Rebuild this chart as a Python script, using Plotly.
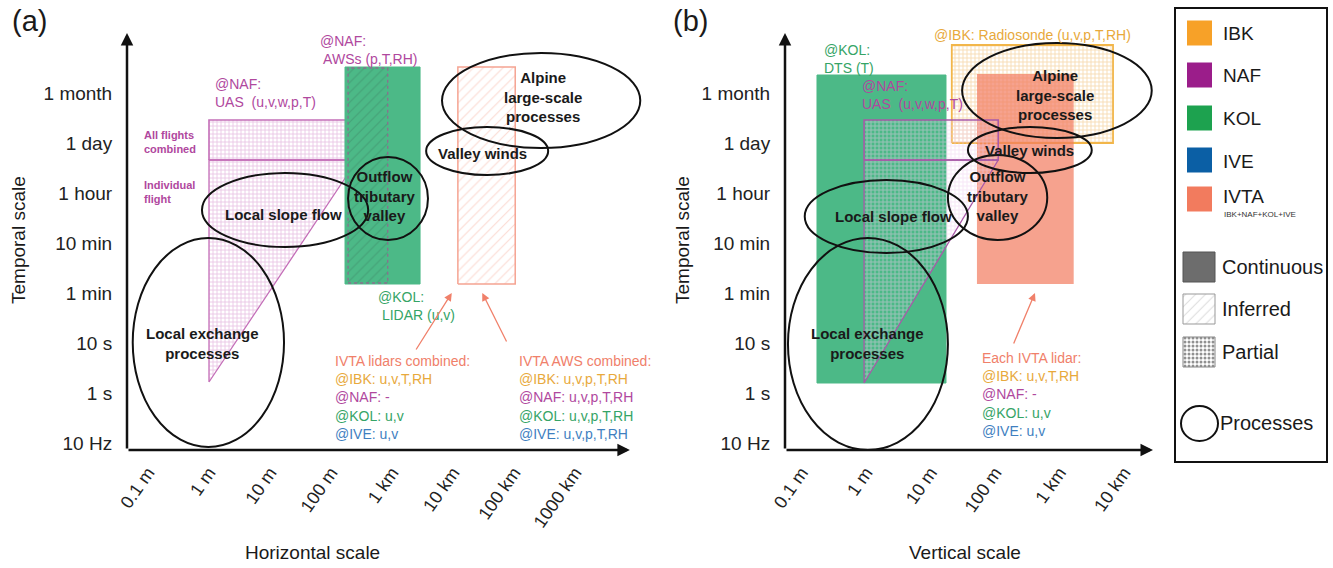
import plotly.graph_objects as go

# ---------------- data (log-decade index units) ----------------
YTICKS = ["10 Hz", "1 s", "10 s", "1 min", "10 min", "1 hour", "1 day", "1 month"]
XTICKS_H = ["0.1 m", "1 m", "10 m", "100 m", "1 km", "10 km", "100 km", "1000 km"]
XTICKS_V = ["0.1 m", "1 m", "10 m", "100 m", "1 km", "10 km"]

# boxes: [x0, x1, y0, y1]
H_KOL_LIDAR = [3.23, 4.46, 3.18, 7.52]
H_NAF_AWS = [3.28, 3.93, 3.20, 7.50]
H_IVTA_AWS = [5.08, 6.02, 3.18, 7.52]
H_NAF_UAS_ALL = [1.0, 3.43, 5.66, 6.46]
H_NAF_UAS_TRI_X = [1.0, 1.0, 3.43]
H_NAF_UAS_TRI_Y = [1.22, 5.66, 5.66]

V_KOL_DTS = [0.24, 2.24, 1.20, 7.36]
V_IBK_RS = [2.33, 4.83, 6.00, 7.96]
V_IVTA_LIDAR = [2.72, 4.22, 3.18, 7.38]
V_NAF_UAS_ALL = [0.97, 3.05, 5.66, 6.46]
V_NAF_UAS_TRI_X = [0.97, 0.97, 3.05]
V_NAF_UAS_TRI_Y = [1.20, 5.66, 5.66]

# processes (ellipses)
PROC_LABELS = ["Local exchange<br>processes", "Local slope flow",
               "Outflow<br>tributary<br>valley", "Valley winds",
               "Alpine<br>large-scale<br>processes"]
H_PROC_X = [[-0.25, 2.23], [0.885, 3.61], [3.28, 4.59], [4.56, 6.56], [4.82, 8.07]]
H_PROC_Y = [[-0.08, 4.10], [3.92, 5.40], [4.06, 5.72], [5.36, 6.32], [5.90, 7.80]]
H_PROC_LAB = [[0.90, 2.0], [2.22, 4.58], [3.89, 4.94], [5.49, 5.80], [6.48, 6.92]]
V_PROC_X = [[-0.21, 2.27], [0.05, 2.58], [2.27, 3.81], [2.58, 4.50], [2.49, 5.43]]
V_PROC_Y = [[-0.14, 4.10], [3.80, 5.26], [4.06, 5.76], [5.40, 6.32], [6.10, 8.00]]
V_PROC_LAB = [[1.03, 2.0], [1.42, 4.54], [3.05, 4.94], [3.54, 5.86], [3.93, 6.96]]

SITES = ["IBK", "NAF", "KOL", "IVE", "IVTA"]
SITE_COLORS = ["#f7a128", "#9b1d8a", "#1da24f", "#0b5fa5", "#f27b5e"]
STYLES = ["Continuous", "Inferred", "Partial"]

# text colours
C_NAF = "#b0489e"
C_KOL = "#35a466"
C_IBK = "#e8a93c"
C_IVE = "#3f7fbf"
C_IVTA = "#f0806a"

FONT = "Liberation Sans, Arial, sans-serif"
W, H = 1333, 568
OFF = 0  # body margin removed by post_script below


def fx(p):
    return (p - OFF) / W


def fy(p):
    return 1 - (p - OFF) / H


fig = go.Figure()


def rect_xy(b):
    x0, x1, y0, y1 = b
    return [x0, x1, x1, x0, x0], [y0, y0, y1, y1, y0]


def poly(xs, ys, xa, ya, fillcolor, line_color, line_width=1.5, dash="solid", pattern=None):
    fig.add_trace(go.Scatter(
        x=xs, y=ys, xaxis=xa, yaxis=ya, mode="lines", fill="toself",
        fillcolor=fillcolor, fillpattern=pattern,
        line=dict(color=line_color, width=line_width, dash=dash),
        hoverinfo="skip", showlegend=False))


def hatch(fg, size=7, sol=0.15, bg="rgba(0,0,0,0)"):
    return dict(shape="/", fgcolor=fg, bgcolor=bg, size=size, solidity=sol, fillmode="overlay")


def grid(fg, size=4, sol=0.4):
    return dict(shape="+", fgcolor=fg, bgcolor="rgba(0,0,0,0)", size=size, solidity=sol, fillmode="overlay")


# ---------------- panel (a) ----------------
tx, ty = H_NAF_UAS_TRI_X + [H_NAF_UAS_TRI_X[0]], H_NAF_UAS_TRI_Y + [H_NAF_UAS_TRI_Y[0]]
poly(tx, ty, "x", "y", "rgba(250,235,248,0.5)", "#c46fb8", 1.3, pattern=grid("#d48ccb"))
xs, ys = rect_xy(H_NAF_UAS_ALL)
poly(xs, ys, "x", "y", "rgba(250,235,248,0.5)", "#c46fb8", 1.6, pattern=grid("#d48ccb"))
xs, ys = rect_xy(H_KOL_LIDAR)
poly(xs, ys, "x", "y", "#4cb987", "#4cb987", 1)
xs, ys = rect_xy(H_NAF_AWS)
poly(xs, ys, "x", "y", "rgba(110,140,125,0.35)", "#8a6f8e", 1.3, "dot",
     pattern=hatch("rgba(50,90,75,0.55)", 7, 0.15))
xs, ys = rect_xy(H_IVTA_AWS)
poly(xs, ys, "x", "y", "rgba(255,255,255,0)", "#f5a492", 1.5,
     pattern=hatch("#f7b4a4", 7, 0.15))

# ---------------- panel (b) ----------------
xs, ys = rect_xy(V_KOL_DTS)
poly(xs, ys, "x2", "y2", "#4cb987", "#4cb987", 1)
xs, ys = rect_xy(V_IBK_RS)
poly(xs, ys, "x2", "y2", "rgba(253,240,222,0.7)", "#f2b64a", 1.8, pattern=grid("#f0bb6c", 4, 0.42))
xs, ys = rect_xy(V_IVTA_LIDAR)
poly(xs, ys, "x2", "y2", "rgba(242,123,94,0.7)", "rgba(242,123,94,0.0)", 1)
tx, ty = V_NAF_UAS_TRI_X + [V_NAF_UAS_TRI_X[0]], V_NAF_UAS_TRI_Y + [V_NAF_UAS_TRI_Y[0]]
poly(tx, ty, "x2", "y2", "rgba(255,255,255,0)", "#a859a8", 1.3, pattern=grid("rgba(238,205,238,0.95)", 4, 0.45))
xs, ys = rect_xy(V_NAF_UAS_ALL)
poly(xs, ys, "x2", "y2", "rgba(255,255,255,0)", "#a859a8", 1.6, pattern=grid("rgba(238,205,238,0.95)", 4, 0.45))

# ---------------- ellipses & labels ----------------
shapes = []
annotations = []
for xr, yr, PX, PY, PL in [("x", "y", H_PROC_X, H_PROC_Y, H_PROC_LAB),
                           ("x2", "y2", V_PROC_X, V_PROC_Y, V_PROC_LAB)]:
    for (x0, x1), (y0, y1), (lx, ly), lab in zip(PX, PY, PL, PROC_LABELS):
        shapes.append(dict(type="circle", xref=xr, yref=yr, x0=x0, x1=x1, y0=y0, y1=y1,
                           line=dict(color="#111", width=2), layer="above"))
        annotations.append(dict(x=lx, y=ly, xref=xr, yref=yr, text="<b>" + lab + "</b>",
                                showarrow=False, font=dict(family=FONT, size=15, color="#1a1a1a"),
                                align="center"))


def note(x, y, xr, yr, text, color, size=14, xanchor="left", yanchor="top", bold=False):
    annotations.append(dict(x=x, y=y, xref=xr, yref=yr, text=("<b>%s</b>" % text) if bold else text,
                            showarrow=False, xanchor=xanchor, yanchor=yanchor, align="left",
                            font=dict(family=FONT, size=size, color=color)))


# panel (a) instrument texts
note(2.79, 8.24, "x", "y", "@NAF:<br> AWSs (p,T,RH)", C_NAF)
note(1.07, 7.38, "x", "y", "@NAF:<br>UAS  (u,v,w,p,T)", C_NAF)
note(-0.09, 6.32, "x", "y", "All flights<br>combined", C_NAF, 11, bold=True)
note(-0.09, 5.32, "x", "y", "Individual<br>flight", C_NAF, 11, bold=True)
note(3.74, 3.12, "x", "y", "@KOL:<br> LIDAR (u,v)", C_KOL)


def block(x, y, xr, yr, head, lines):
    txt = "<span style='color:%s'>%s</span>" % (C_IVTA, head)
    for c, t in zip([C_IBK, C_NAF, C_KOL, C_IVE], lines):
        txt += "<br><span style='color:%s'>%s</span>" % (c, t)
    note(x, y, xr, yr, txt, C_IVTA)


block(3.03, 1.84, "x", "y", "IVTA lidars combined:", ["@IBK: u,v,T,RH", "@NAF: -", "@KOL: u,v", "@IVE: u,v"])
block(6.05, 1.84, "x", "y", "IVTA AWS combined:", ["@IBK: u,v,p,T,RH", "@NAF: u,v,p,T,RH", "@KOL: u,v,p,T,RH", "@IVE: u,v,p,T,RH"])

# panel (b) instrument texts
note(0.32, 8.06, "x2", "y2", "@KOL:<br>DTS (T)", C_KOL)
note(0.91, 7.34, "x2", "y2", "@NAF:<br>UAS  (u,v,w,p,T)", C_NAF)
note(2.02, 8.16, "x2", "y2", "@IBK: Radiosonde (u,v,p,T,RH)", C_IBK, yanchor="middle")
block(2.77, 1.90, "x2", "y2", "Each IVTA lidar:", ["@IBK: u,v,T,RH", "@NAF: -", "@KOL: u,v", "@IVE: u,v"])

# arrows to IVTA boxes
for (hx, hy, tx_, ty_, xr, yr) in [(4.98, 3.0, 4.38, 1.84, "x", "y"), (5.48, 3.0, 5.89, 2.0, "x", "y"),
                                   (3.62, 3.0, 3.28, 1.96, "x2", "y2")]:
    annotations.append(dict(x=hx, y=hy, ax=tx_, ay=ty_, xref=xr, yref=yr, axref=xr, ayref=yr,
                            text="", showarrow=True, arrowhead=2, arrowsize=1.2, arrowwidth=1.3,
                            arrowcolor=C_IVTA, standoff=0))

# axis arrows
for xr, yr, xmin, xend, ymin, yend in [("x", "y", -0.344, 7.90, -0.14, 8.2), ("x2", "y2", -0.256, 5.45, -0.14, 8.2)]:
    annotations.append(dict(x=xmin, y=yend, ax=xmin, ay=ymin, xref=xr, yref=yr, axref=xr, ayref=yr,
                            text="", showarrow=True, arrowhead=2, arrowsize=1, arrowwidth=2.5,
                            arrowcolor="#111", standoff=0))
    annotations.append(dict(x=xend, y=ymin, ax=xmin, ay=ymin, xref=xr, yref=yr, axref=xr, ayref=yr,
                            text="", showarrow=True, arrowhead=2, arrowsize=1, arrowwidth=2.5,
                            arrowcolor="#111", standoff=0))


# titles / panel labels
def paper_text(px, py, text, size, angle=0):
    annotations.append(dict(x=fx(px), y=fy(py), xref="paper", yref="paper", text=text,
                            showarrow=False, textangle=angle, xanchor="center", yanchor="middle",
                            font=dict(family=FONT, size=size, color="#1a1a1a")))


paper_text(30, 21, "(a)", 29)
paper_text(690, 21, "(b)", 29)
paper_text(18, 240, "Temporal scale", 19, -90)
paper_text(682, 240, "Temporal scale", 19, -90)
paper_text(312, 552, "Horizontal scale", 19)
paper_text(965, 552, "Vertical scale", 19)

# ---------------- legend panel (own axes, local units) ----------------
SITE_SW_Y = [25, 67, 110, 152, 191]
for name, col, yc in zip(SITES, SITE_COLORS, SITE_SW_Y):
    xs, ys = rect_xy([12, 37, yc - 12.5, yc + 12.5])
    poly(xs, ys, "x3", "y3", col, "rgba(0,0,0,0)", 0.5)
    note(46, yc + (-3 if name == "IVTA" else 1), "x3", "y3", name, "#1a1a1a", 19, yanchor="middle")
note(47, 206, "x3", "y3", "IBK+NAF+KOL+IVE", "#333", 8, yanchor="middle")

STYLE_SW_Y = [259, 301, 344]
for name, yc in zip(STYLES, STYLE_SW_Y):
    xs, ys = rect_xy([8, 40, yc - 15, yc + 15])
    if name == "Continuous":
        poly(xs, ys, "x3", "y3", "#6d6d6d", "#555", 1)
    elif name == "Inferred":
        poly(xs, ys, "x3", "y3", "rgba(255,255,255,0)", "#999", 1, pattern=hatch("#bbb", 7, 0.15))
    else:
        poly(xs, ys, "x3", "y3", "#ffffff", "#888", 1,
             pattern=dict(shape=".", fgcolor="#222", bgcolor="#ffffff", size=4, solidity=0.45))
    note(45, yc, "x3", "y3", name, "#1a1a1a", 20, yanchor="middle")

shapes.append(dict(type="circle", xref="x3", yref="y3", x0=6, x1=43, y0=398, y1=433,
                   line=dict(color="#111", width=2)))
note(43, 415, "x3", "y3", "Processes", "#1a1a1a", 20, yanchor="middle")
shapes.append(dict(type="rect", xref="x3 domain", yref="y3 domain", x0=0, x1=1, y0=0, y1=1,
                   line=dict(color="#111", width=2)))

# ---------------- axes ----------------
ydom = [fy(450), fy(28)]
yax = dict(range=[-0.14, 8.3], tickvals=list(range(len(YTICKS))), ticktext=YTICKS,
           showgrid=False, zeroline=False, showline=False, ticks="outside", ticklen=10,
           tickcolor="rgba(0,0,0,0)", tickfont=dict(family=FONT, size=19, color="#222"),
           domain=ydom, fixedrange=True, automargin=False)
xcommon = dict(showgrid=False, zeroline=False, showline=False, ticks="outside", ticklen=4,
               tickcolor="rgba(0,0,0,0)", tickangle=-55, automargin=False,
               tickfont=dict(family=FONT, size=18, color="#222"), fixedrange=True)

fig.update_layout(
    width=W, height=H, margin=dict(l=0, r=0, t=0, b=0, autoexpand=False),
    paper_bgcolor="white", plot_bgcolor="rgba(0,0,0,0)",
    xaxis=dict(domain=[fx(127), fx(645)], range=[-0.344, (645 - 148) / 61],
               tickvals=list(range(len(XTICKS_H))), ticktext=XTICKS_H, anchor="y", **xcommon),
    yaxis=dict(anchor="x", **yax),
    xaxis2=dict(domain=[fx(785), fx(1160)], range=[-0.256, (1160 - 801.5) / 64.5],
                tickvals=list(range(len(XTICKS_V))), ticktext=XTICKS_V, anchor="y2", **xcommon),
    yaxis2=dict(anchor="x2", **yax),
    xaxis3=dict(domain=[fx(1175), fx(1327)], range=[0, 152], visible=False, anchor="y3",
                fixedrange=True, automargin=False),
    yaxis3=dict(domain=[fy(462), fy(8)], range=[454, 0], visible=False, anchor="x3",
                fixedrange=True, automargin=False),
    shapes=shapes, annotations=annotations, showlegend=False,
)

fig.write_html("out.html", config={"displayModeBar": False},
               post_script="document.body.style.margin='0';")
